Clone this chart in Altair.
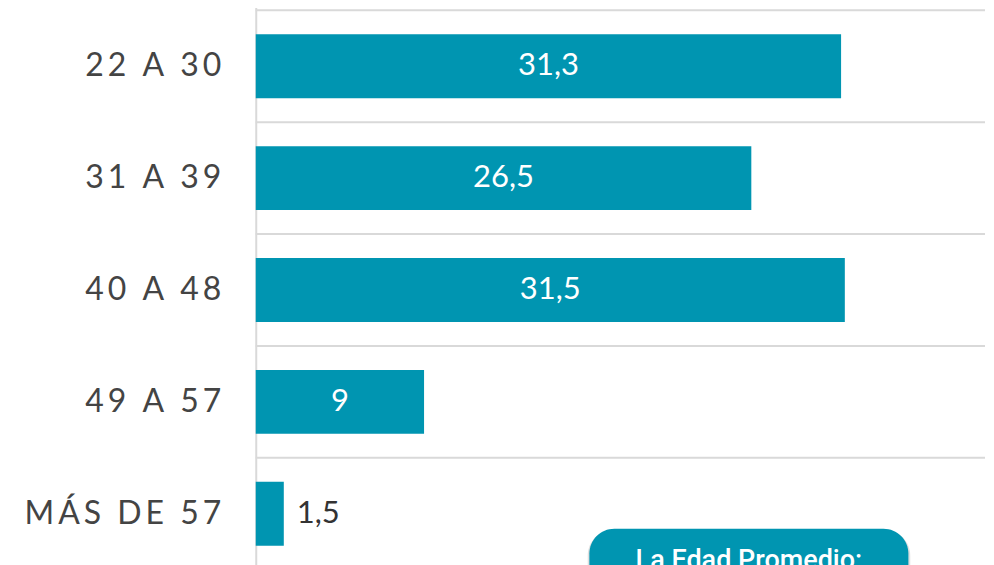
import altair as alt
import pandas as pd

categories = ["22 A 30", "31 A 39", "40 A 48", "49 A 57", "MÁS DE 57"]
values = [31.3, 26.5, 31.5, 9, 1.5]
value_labels = ["31,3", "26,5", "31,5", "9", "1,5"]
box_text = "La Edad Promedio:"


def spaced(s):
    return "\u2009".join(s)


df = pd.DataFrame({
    "cat": [spaced(c) for c in categories],
    "v": values,
    "lbl": value_labels,
})
order = list(df["cat"])

W = 730
H = 556
XMAX = W / 18.72
BAR = "#0095b1"
GRID = "#d9d9d9"
FONT = "Lato"

xscale = alt.Scale(domain=[0, XMAX], nice=False, zero=True)
ybar_scale = alt.Scale(range=[0, 560], paddingInner=0.4286, paddingOuter=0.2143)

y_axis = alt.Axis(
    domain=False, ticks=False, tickSize=0, grid=False, labelPadding=35,
    labelFontSize=32, labelColor="#444444", labelFont=FONT, labelLimit=400,
    minExtent=243, maxExtent=243, title=None,
)

bars = alt.Chart(df).mark_bar(color=BAR).encode(
    x=alt.X("v:Q", scale=xscale,
            axis=alt.Axis(values=[0], grid=True, gridColor=GRID, gridWidth=2,
                          labels=False, ticks=False, domain=False, title=None,
                          minExtent=0, maxExtent=0)),
    y=alt.Y("cat:N", sort=order, scale=ybar_scale, axis=y_axis),
)

inside = alt.Chart(df).transform_filter("datum.v >= 5").transform_calculate(
    mid="datum.v / 2"
).mark_text(color="white", fontSize=31, font=FONT, align="center", baseline="middle").encode(
    x=alt.X("mid:Q", scale=xscale),
    y=alt.Y("cat:N", sort=order, scale=ybar_scale),
    text="lbl:N",
)

outside = alt.Chart(df).transform_filter("datum.v < 5").mark_text(
    color="#333333", fontSize=31, font=FONT, align="left", baseline="middle", dx=13
).encode(
    x=alt.X("v:Q", scale=xscale),
    y=alt.Y("cat:N", sort=order, scale=ybar_scale),
    text="lbl:N",
)

shadow = alt.Chart(df).transform_filter("datum.v == 1.5").mark_rect(
    color="#000000", opacity=0.12, cornerRadius=26, clip=True
).encode(
    x=alt.datum(17.75), x2=alt.datum(35.0),
    y=alt.value(520), y2=alt.value(640),
)

box = alt.Chart(df).transform_filter("datum.v == 1.5").mark_rect(
    color=BAR, cornerRadius=25, clip=True
).encode(
    x=alt.datum(17.84), x2=alt.datum(34.9),
    y=alt.value(519), y2=alt.value(640),
)

box_label = alt.Chart(df).transform_filter("datum.v == 1.5").mark_text(
    text=box_text, color="white", fontSize=27, font="Roboto", fontWeight=500,
    align="center", baseline="alphabetic", clip=True
).encode(
    x=alt.datum(26.37),
    y=alt.value(559),
)

main = alt.layer(bars, inside, outside, shadow, box, box_label)

rules = alt.Chart(df).mark_rule(color=GRID, strokeWidth=2).encode(
    y=alt.Y("cat:N", sort=order, bandPosition=0,
            scale=alt.Scale(range=[0, 560], paddingInner=0, paddingOuter=0),
            axis=None),
    x=alt.datum(0, scale=xscale),
    x2=alt.datum(XMAX),
)

chart = alt.layer(rules, main).resolve_scale(y="independent").properties(
    width=W, height=H,
    padding={"left": 5, "top": 1, "right": 0, "bottom": 0},
    background="white",
).configure_view(strokeOpacity=0)

chart.save("out.html", embed_options={"renderer": "svg", "actions": False})
